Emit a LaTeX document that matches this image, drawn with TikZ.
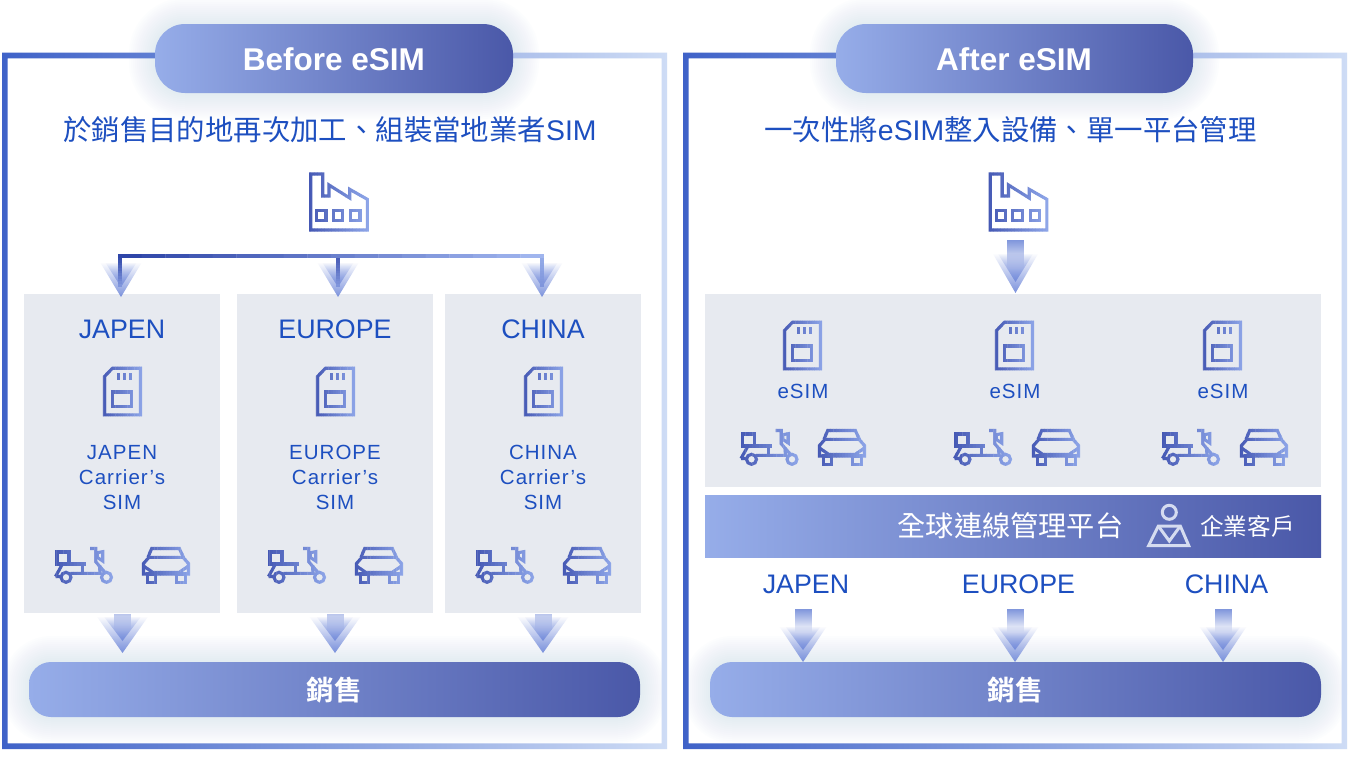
\documentclass[tikz,border=0pt]{standalone}
\usepackage{fontspec}
\setmainfont{Liberation Sans}
\newfontfamily\cjk{Noto Sans CJK TC}
\newfontfamily\cjkbold{Noto Sans CJK TC}[BoldFont={Noto Sans CJK TC Bold}]
\newfontfamily\trackedfont[LetterSpace=5]{Liberation Sans}
\usetikzlibrary{fadings}
\definecolor{inkblue}{HTML}{1D4FC0}
\definecolor{pillL}{HTML}{96ADE9}
\definecolor{pillR}{HTML}{4A58A8}
\definecolor{frameL}{HTML}{3F62C8}
\definecolor{frameR}{HTML}{CEDCF5}
\definecolor{iconL}{HTML}{4558B4}
\definecolor{iconR}{HTML}{8EA6E8}
\definecolor{panelgrey}{HTML}{E7EAF0}
\definecolor{glowblue}{HTML}{A9CBE8}
\definecolor{tipblue}{HTML}{6F88DA}
\definecolor{stemblue}{HTML}{8096DC}
\definecolor{paleicon}{HTML}{D5DCF0}
\definecolor{busdark}{HTML}{2E45A8}
\definecolor{busmid}{HTML}{4558B4}
\definecolor{buslow}{HTML}{7F95DC}
\definecolor{busright}{HTML}{95ACE8}
\definecolor{buslight}{HTML}{A0B5EE}
\colorlet{stripcol}{iconL}
\tikzfading[name=chevronfade,top color=transparent!100,middle color=transparent!92,bottom color=transparent!8]
\tikzset{
  pill/.style={inner sep=0pt,left color=pillL,right color=pillR,rounded corners=#1},
  panel/.style={inner sep=0pt,fill=panelgrey,anchor=north west},
  heading/.style={text=inkblue,inner sep=0pt},
  region/.style={text=inkblue,inner sep=0pt,font=\fontsize{26.8}{30}\selectfont},
  minor/.style={text=inkblue,inner sep=0pt,align=center,font=\trackedfont\fontsize{20.5}{25}\selectfont},
  iconline/.style={draw=stripcol,line width=3.1pt,line join=miter},
  busline/.style={draw=stripcol,line width=3.3pt},
}
% Stroke a body with a left-to-right colour ramp, one narrow vertical band at a time.
\newcommand{\rampX}[7]{% x0,x1,y0,y1,colour A,colour B,body
  \foreach \k in {0,...,17}{
    \pgfmathsetmacro\pct{\k/17*100}
    \colorlet{stripcol}{#6!\pct!#5}
    \begin{scope}
      \clip ({#1+(#2-#1)*\k/18},#3) rectangle ({#1+(#2-#1)*(\k+1)/18+0.3},#4);
      #7
    \end{scope}
  }}
% The same ramp running from top to bottom.
\newcommand{\rampY}[7]{%
  \foreach \k in {0,...,11}{
    \pgfmathsetmacro\pct{\k/11*100}
    \colorlet{stripcol}{#6!\pct!#5}
    \begin{scope}
      \clip (#1,{#3+(#4-#3)*\k/12}) rectangle (#2,{#3+(#4-#3)*(\k+1)/12+0.3});
      #7
    \end{scope}
  }}
\newcommand{\factoryshape}{%
  \draw[iconline] (1.7,2) -- (13.7,2) -- (13.7,24) -- (20,24) -- (20,13) -- (40.7,26) -- (40.7,17.3)
     -- (58.3,27.3) -- (58.3,58) -- (1.7,58) -- cycle;
  \draw[iconline] (7.7,38.7) rectangle (17,48.3) (24.3,38.7) rectangle (33.7,48.3) (41.7,38.7) rectangle (51,48.3);}
\newcommand{\simshape}{%
  \draw[iconline] (1.5,9.5) -- (9.5,1.2) -- (37.5,1.2) -- (37.5,47.8) -- (1.5,47.8) -- cycle;
  \draw[iconline] (9.7,25) rectangle (28.7,39.3);
  \draw[iconline] (15.7,6.3) -- (15.7,13) (21.5,6.3) -- (21.5,13) (27.3,6.3) -- (27.3,13);}
\newcommand{\scootershape}{%
  \draw[iconline] (2,4) rectangle (14,16);
  \draw[iconline] (2,16) -- (31,16);
  \draw[iconline] (27.7,16) -- (27.7,25.3);
  \draw[iconline] (0.5,28.5) -- (7,28.5) (0.5,28.5) -- (7.5,16);
  \draw[iconline] (11,29.3) circle (5);
  \draw[iconline] (15.5,25.3) -- (45,25.3) -- (44.5,18);
  \draw[iconline] (35,0.5) -- (40.7,0.5) -- (40.7,13.7) -- (50.5,25);
  \draw[iconline] (42.3,4.7) -- (47.7,3.7) -- (47.7,13) -- (42.3,9.3) -- cycle;
  \draw[iconline] (51.5,29.3) circle (5);}
\newcommand{\carshape}{%
  \draw[iconline] (6,10.3) -- (9.7,1.5) -- (37.3,1.5) -- (41.5,10.3);
  \draw[iconline] (1.5,16.5) -- (7,10.3) -- (41,10.3) -- (46.5,16.5) -- (46.5,27) -- (1.5,27) -- cycle;
  \draw[iconline] (1.5,19) -- (11,25.5) -- (37,25.5) -- (46.5,19);
  \draw[iconline] (5.3,27) rectangle (13.7,35.5) (34.7,27) rectangle (43.7,35.5);}
% Place one icon with its ramp; #1 x, #2 y, #3 width, #4 height, #5 shape.
\newcommand{\placeicon}[5]{%
  \begin{scope}[shift={(#1,#2)}]
    \rampX{-2}{#3+2}{-3}{#4+3}{iconL}{iconR}{#5}
  \end{scope}}
% Soft halo behind a rounded bar.
\newcommand{\halo}[5]{% x0,y0,x1,y1,radius
  \foreach \g in {26,24,...,2}{
    \pgfmathsetmacro\hr{#5+\g}
    \fill[glowblue,opacity=0.024,rounded corners=\hr pt]
      ({#1-\g},{#2-\g}) rectangle ({#3+\g},{#4+\g});
  }}
% Downward double chevron: centre x, top y, back half width, front half width, front tip, back tip.
\newcommand{\chevrons}[6]{%
  \fill[tipblue,path fading=chevronfade] ({#1-#3},#2) -- ({#1+#3},#2) -- (#1,#6) -- cycle;
  \fill[tipblue,path fading=chevronfade] ({#1-#4},#2) -- ({#1+#4},#2) -- (#1,#5) -- cycle;}
% Stem of a block arrow: centre x, top y, bottom y, strength.
\newcommand{\stemrect}[4]{%
  \fill[stemblue!#4!white,path fading=south] ({#1-8.5},#2) rectangle ({#1+8.5},#3);}
\begin{document}
\begin{tikzpicture}[x=1pt,y=-1pt]
\useasboundingbox (0,0) rectangle (1350,782);
\fill[white] (0,0) rectangle (1350,782);

% halos sit under everything else
\halo{155}{24}{513}{93}{30}
\halo{836}{24}{1193}{93}{30}
\halo{29}{662}{640}{717}{22}
\halo{710}{662}{1321}{717}{22}

% outer frames with a horizontal ramp
\foreach \fx/\fw in {2/665,683/664}{
  \begin{scope}
    \clip (\fx,52.7) rectangle ({\fx+\fw},58.3)
          (\fx,743.4) rectangle ({\fx+\fw},749)
          (\fx,58.3) rectangle ({\fx+5.5},743.4)
          ({\fx+\fw-5.5},58.3) rectangle ({\fx+\fw},743.4);
    \shade[left color=frameL,right color=frameR] (\fx,50) rectangle ({\fx+\fw},752);
  \end{scope}
}

% title bars
\node[pill=30pt,minimum width=358pt,minimum height=69pt] (titleBefore) at (334,58.5) {};
\node[pill=30pt,minimum width=357pt,minimum height=69pt] (titleAfter) at (1014.5,58.5) {};
\node[inner sep=0pt,text=white,font=\bfseries\fontsize{31.5}{36}\selectfont] (titleBeforeText) at (334,59.2) {Before eSIM};
\node[inner sep=0pt,text=white,font=\bfseries\fontsize{31.5}{36}\selectfont] (titleAfterText) at (1014,59.2) {After eSIM};

% headings
\node[heading] (headBefore) at (330,130)
  {\fontsize{28.4}{34}\selectfont{\cjk 於銷售目的地再次加工、組裝當地業者}SIM};
\node[heading] (headAfter) at (1010.5,130)
  {\fontsize{28.4}{34}\selectfont{\cjk 一次性將}eSIM{\cjk 整入設備、單一平台管理}};

% regional panels
\node[panel,minimum width=196pt,minimum height=319pt] (panelJ) at (24,294) {};
\node[panel,minimum width=196pt,minimum height=319pt] (panelE) at (237,294) {};
\node[panel,minimum width=196pt,minimum height=319pt] (panelC) at (445,294) {};
\node[panel,minimum width=616pt,minimum height=192.5pt] (panelAll) at (705,294) {};

% factories
\placeicon{309}{172}{59}{59}{\factoryshape}
\placeicon{988.5}{172}{59}{59}{\factoryshape}

% arrows feeding the panels
\chevrons{121}{262}{21}{16}{287}{297}
\chevrons{338}{262}{21}{16}{287}{297}
\chevrons{542}{262}{21}{16}{287}{297}

% distribution bus
\coordinate (busJ) at (120,256);
\coordinate (busE) at (338,256);
\coordinate (busC) at (542,256);
\coordinate (dropJ) at (120,287);
\coordinate (dropE) at (338,287);
\coordinate (dropC) at (542,287);
\rampY{115}{125}{255}{287}{busdark}{buslow}{\draw[busline] (busJ) -- (dropJ);}
\rampY{333}{343}{255}{287}{busmid}{buslow}{\draw[busline] (busE) -- (dropE);}
\rampY{537}{547}{255}{287}{busright}{buslow}{\draw[busline] (busC) -- (dropC);}
\rampX{118}{544}{250}{262}{busdark}{buslight}{\draw[busline,line cap=rect] (busJ) -- (busC);}

% factory arrow on the single-platform side
\stemrect{1015.5}{240}{268}{100}
\chevrons{1015.5}{253}{23}{18}{282}{293}

% panel contents, left side
\foreach \lx/\lab/\car/\nm in {122/JAPEN/0/J,335/EUROPE/213/E,543/CHINA/421/C}{
  \node[region] (region\nm) at (\lx,329.5) {\lab};
  \node[minor] (sim\nm) at (\lx,477.5) {\lab\\Carrier’s\\SIM};
  \placeicon{\car+103}{367}{39}{49}{\simshape}
  \placeicon{\car+55}{548}{58}{36}{\scootershape}
  \placeicon{\car+142}{547}{48}{36}{\carshape}
}

% panel contents, right side
\foreach \sx/\tx/\scx/\cx/\nm in {783/803/740.5/818/a,995/1015/954/1032/b,1203/1223/1162/1240/c}{
  \node[minor] (esim\nm) at (\tx,391.5) {eSIM};
  \placeicon{\sx}{321}{39}{49}{\simshape}
  \placeicon{\scx}{430}{58}{36}{\scootershape}
  \placeicon{\cx}{429}{48}{36}{\carshape}
}

% management platform bar
\node[inner sep=0pt,left color=pillL,right color=pillR,minimum width=616pt,minimum height=62pt] (platform) at (1013,526) {};
\node[inner sep=0pt,text=white] (platformText) at (1010.5,526)
  {\cjk\fontsize{28.2}{32}\selectfont 全球連線管理平台};
\node[inner sep=0pt,text=white] (clientText) at (1247.5,526)
  {\cjk\fontsize{23.6}{28}\selectfont 企業客戶};
\draw[paleicon,line width=3pt] (1169.3,512.3) circle (7);
\draw[paleicon,line width=3pt,line join=miter] (1158.3,526) -- (1180.3,526) -- (1188.7,545.5) -- (1148.7,545.5) -- cycle;
\draw[paleicon,line width=3pt,line join=miter] (1158.3,526) -- (1169.3,541) -- (1180.3,526);

% region labels above the sales arrows
\node[region] (regionA) at (806,584.5) {JAPEN};
\node[region] (regionB) at (1018.5,584.5) {EUROPE};
\node[region] (regionD) at (1226.5,584.5) {CHINA};

% arrows into sales
\foreach \ax in {122.5,335,543}{
  \stemrect{\ax}{613.5}{630}{55}
  \chevrons{\ax}{616}{26}{19}{641}{653}
}
\foreach \ax in {803,1015,1223}{
  \stemrect{\ax}{609}{632}{100}
  \chevrons{\ax}{626}{24}{18}{650}{662}
}

% sales bars
\node[pill=22pt,minimum width=611pt,minimum height=55pt] (salesBefore) at (334.5,689.5) {};
\node[pill=22pt,minimum width=611pt,minimum height=55pt] (salesAfter) at (1015.5,689.5) {};
\node[inner sep=0pt,text=white,font=\cjkbold\bfseries\fontsize{27.5}{30}\selectfont] (salesBeforeText) at (334,690.3) {銷售};
\node[inner sep=0pt,text=white,font=\cjkbold\bfseries\fontsize{27.5}{30}\selectfont] (salesAfterText) at (1015,690.3) {銷售};
\end{tikzpicture}
\end{document}
